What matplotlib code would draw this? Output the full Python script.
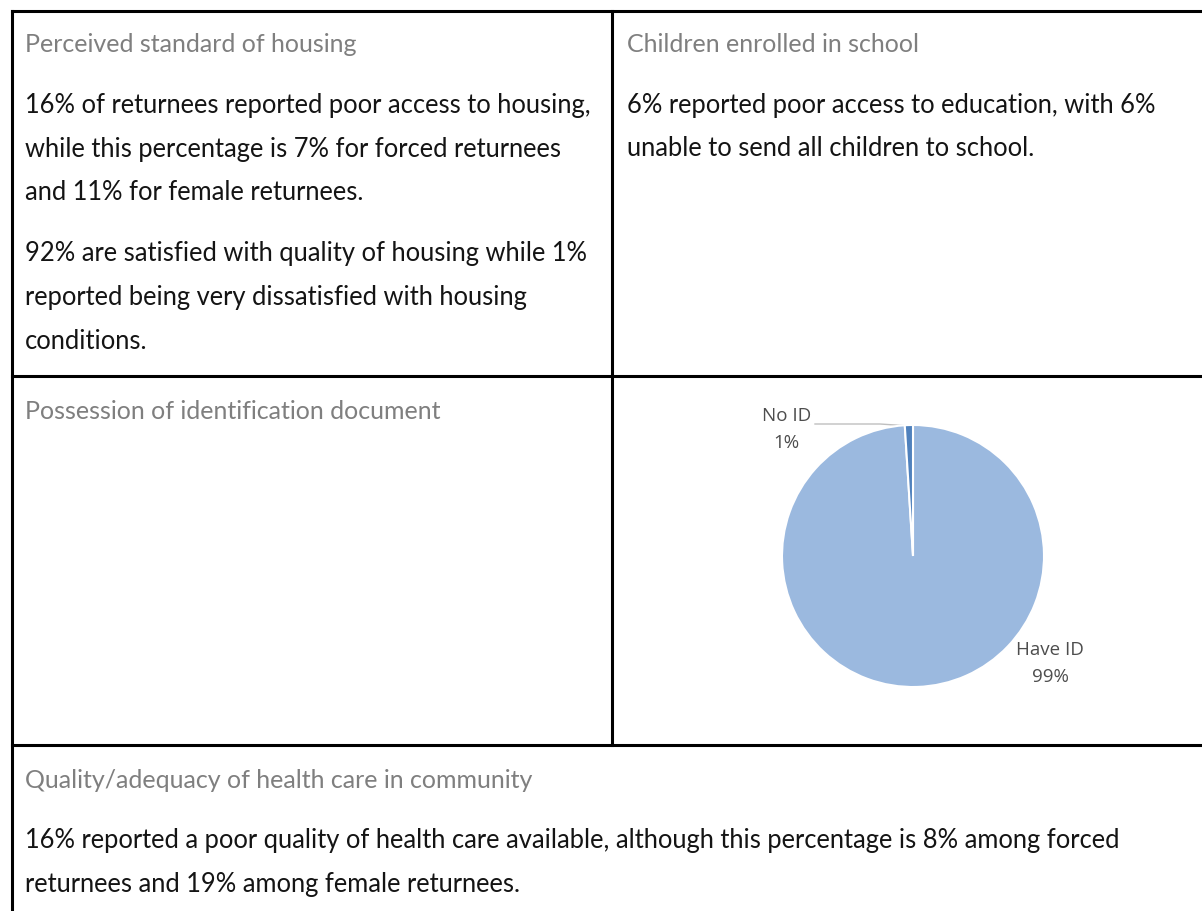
import matplotlib.pyplot as plt

# pie data
pie_labels = ["Have ID", "No ID"]
pie_values = [99, 1]
pie_colors = ["#9bb9df", "#4f81bd"]

# table text
hdr_housing = "Perceived standard of housing"
body_housing = ["16% of returnees reported poor access to housing,",
                "while this percentage is 7% for forced returnees",
                "and 11% for female returnees.",
                "92% are satisfied with quality of housing while 1%",
                "reported being very dissatisfied with housing",
                "conditions."]
hdr_school = "Children enrolled in school"
body_school = ["6% reported poor access to education, with 6%",
               "unable to send all children to school."]
hdr_id = "Possession of identification document"
hdr_health = "Quality/adequacy of health care in community"
body_health = ["16% reported a poor quality of health care available, although this percentage is 8% among forced",
               "returnees and 19% among female returnees."]

W, H = 1202, 912
fig = plt.figure(figsize=(W / 100, H / 100), dpi=100)
ax = fig.add_axes([0, 0, 1, 1])
ax.set_xlim(0, W)
ax.set_ylim(H, 0)
ax.axis("off")

fnt = "Lato"
fs_body = 18.4
fs_hdr = 18.0
gray = "#7f7f7f"
black = "#141414"

# grid lines
lw = 2.2
ax.plot([12, 12], [12, H], c="k", lw=lw)
ax.plot([12, W], [12, 12], c="k", lw=lw)
ax.plot([612, 612], [12, 746], c="k", lw=lw)
ax.plot([12, W], [377, 377], c="k", lw=lw)
ax.plot([12, W], [746, 746], c="k", lw=lw)

def put(x, y, s, c, fs):
    ax.text(x, y + 2, s, fontsize=fs, family=fnt, color=c, va="center", ha="left")

put(25, 43, hdr_housing, gray, fs_hdr)
ys = [103, 147, 191, 252, 296, 340]
for y, s in zip(ys, body_housing):
    put(25, y, s, black, fs_body)

put(627, 43, hdr_school, gray, fs_hdr)
for y, s in zip([103, 147], body_school):
    put(627, y, s, black, fs_body)

put(25, 410, hdr_id, gray, fs_hdr)
put(25, 779, hdr_health, gray, fs_hdr)
for y, s in zip([839, 883], body_health):
    put(25, y, s, black, fs_body)

# pie chart
cx, cy, r = 913, 557, 131
pax = fig.add_axes([(cx - r) / W, 1 - (cy + r) / H, 2 * r / W, 2 * r / H])
pax.pie(pie_values, colors=pie_colors, startangle=90, counterclock=False,
        wedgeprops=dict(edgecolor="white", linewidth=1.5))
pax.set_xlim(-1, 1)
pax.set_ylim(-1, 1)
pax.set_aspect("equal")

lab_c = "#4d4d4d"
lab_fs = 13.5
ax.text(787, 416, pie_labels[1], fontsize=lab_fs, family="Open Sans", color=lab_c, ha="center", va="center")
ax.text(786, 443, "{}%".format(pie_values[1]), fontsize=lab_fs, family="Open Sans", color=lab_c, ha="center", va="center")
ax.plot([815, 880, 910], [425, 425, 427], c="#bfbfbf", lw=1)
ax.text(1050, 650, pie_labels[0], fontsize=lab_fs, family="Open Sans", color=lab_c, ha="center", va="center")
ax.text(1050, 677, "{}%".format(pie_values[0]), fontsize=lab_fs, family="Open Sans", color=lab_c, ha="center", va="center")

fig.savefig("out.png", dpi=100)
